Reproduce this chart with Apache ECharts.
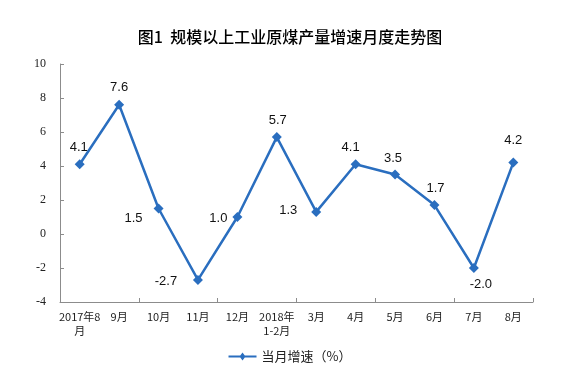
<!DOCTYPE html>
<html><head><meta charset="utf-8">
<script src="https://cdn.jsdelivr.net/npm/echarts@6/dist/echarts.min.js"></script>
<style>html,body{margin:0;padding:0;background:#fff}#c{width:580px;height:385px}</style>
</head><body><div id="c"></div>
<script>
const categories = ['2017年8\n月','9月','10月','11月','12月','2018年\n1-2月','3月','4月','5月','6月','7月','8月'];
const growth = [4.1, 7.6, 1.5, -2.7, 1.0, 5.7, 1.3, 4.1, 3.5, 1.7, -2.0, 4.2];
const yTicks = {min: -4, max: 10, interval: 2};
const seriesName = '当月增速（%）';
const titleText = '图1  规模以上工业原煤产量增速月度走势图';
// label offsets (visual placement only)
const labelOffsets = [[-1,-17],[0,-17],[-25,10],[-32,2],[-19,1],[1,-17],[-28,-1],[-5,-17],[-2,-16],[1,-17],[7,16],[0,-22]];

const chart = echarts.init(document.getElementById('c'), null, {renderer:'canvas'});
const axisColor = '#8c8c8c';
chart.setOption({
  animation: false,
  title: {text: titleText, left: 'center', top: 24,
    textStyle: {fontSize: 16, fontWeight: 500, color: '#000', fontFamily: 'Noto Sans CJK SC'}},
  legend: {bottom: 17, left: 'center', itemWidth: 28, itemHeight: 10,
    textStyle: {fontSize: 13, color: '#222', fontFamily: 'Noto Sans CJK SC'},
    data: [{name: seriesName, icon: 'path://M0,4 L28,4 L28,6 L0,6 Z M14,1 L17,5 L14,9 L11,5 Z'}]},
  grid: {left: 60, right: 47, top: 64, bottom: 83},
  xAxis: [{
    type: 'category', data: categories, position: 'bottom',
    axisLine: {show: false}, axisTick: {show: false},
    axisLabel: {color: '#222', fontSize: 11, lineHeight: 14, margin: 8, interval: 0,
      fontFamily: 'Noto Sans CJK SC'}
  },{
    type: 'category', data: categories, position: 'bottom',
    axisLine: {show: true, onZero: true, lineStyle: {color: axisColor, width: 1}},
    axisTick: {show: true, inside: true, length: 4, lineStyle: {color: axisColor}},
    axisLabel: {show: false}
  }],
  yAxis: {
    type: 'value', min: yTicks.min, max: yTicks.max, interval: yTicks.interval,
    axisLine: {show: true, lineStyle: {color: axisColor}},
    axisTick: {show: true, inside: true, length: 4, lineStyle: {color: axisColor}},
    splitLine: {show: false},
    axisLabel: {color: '#222', fontSize: 12, margin: 14, fontFamily: 'Liberation Serif'}
  },
  series: [{
    name: seriesName, type: 'line', xAxisIndex: 0,
    data: growth.map((v, i) => ({value: v, label: {offset: labelOffsets[i]}})),
    symbol: 'diamond', symbolSize: 10,
    lineStyle: {color: '#2a6ebf', width: 2.5},
    itemStyle: {color: '#2a6ebf'},
    label: {show: true, position: 'inside', color: '#111', fontSize: 13,
      fontFamily: 'Liberation Sans', formatter: p => p.value.toFixed(1)}
  }]
});
</script></body></html>
